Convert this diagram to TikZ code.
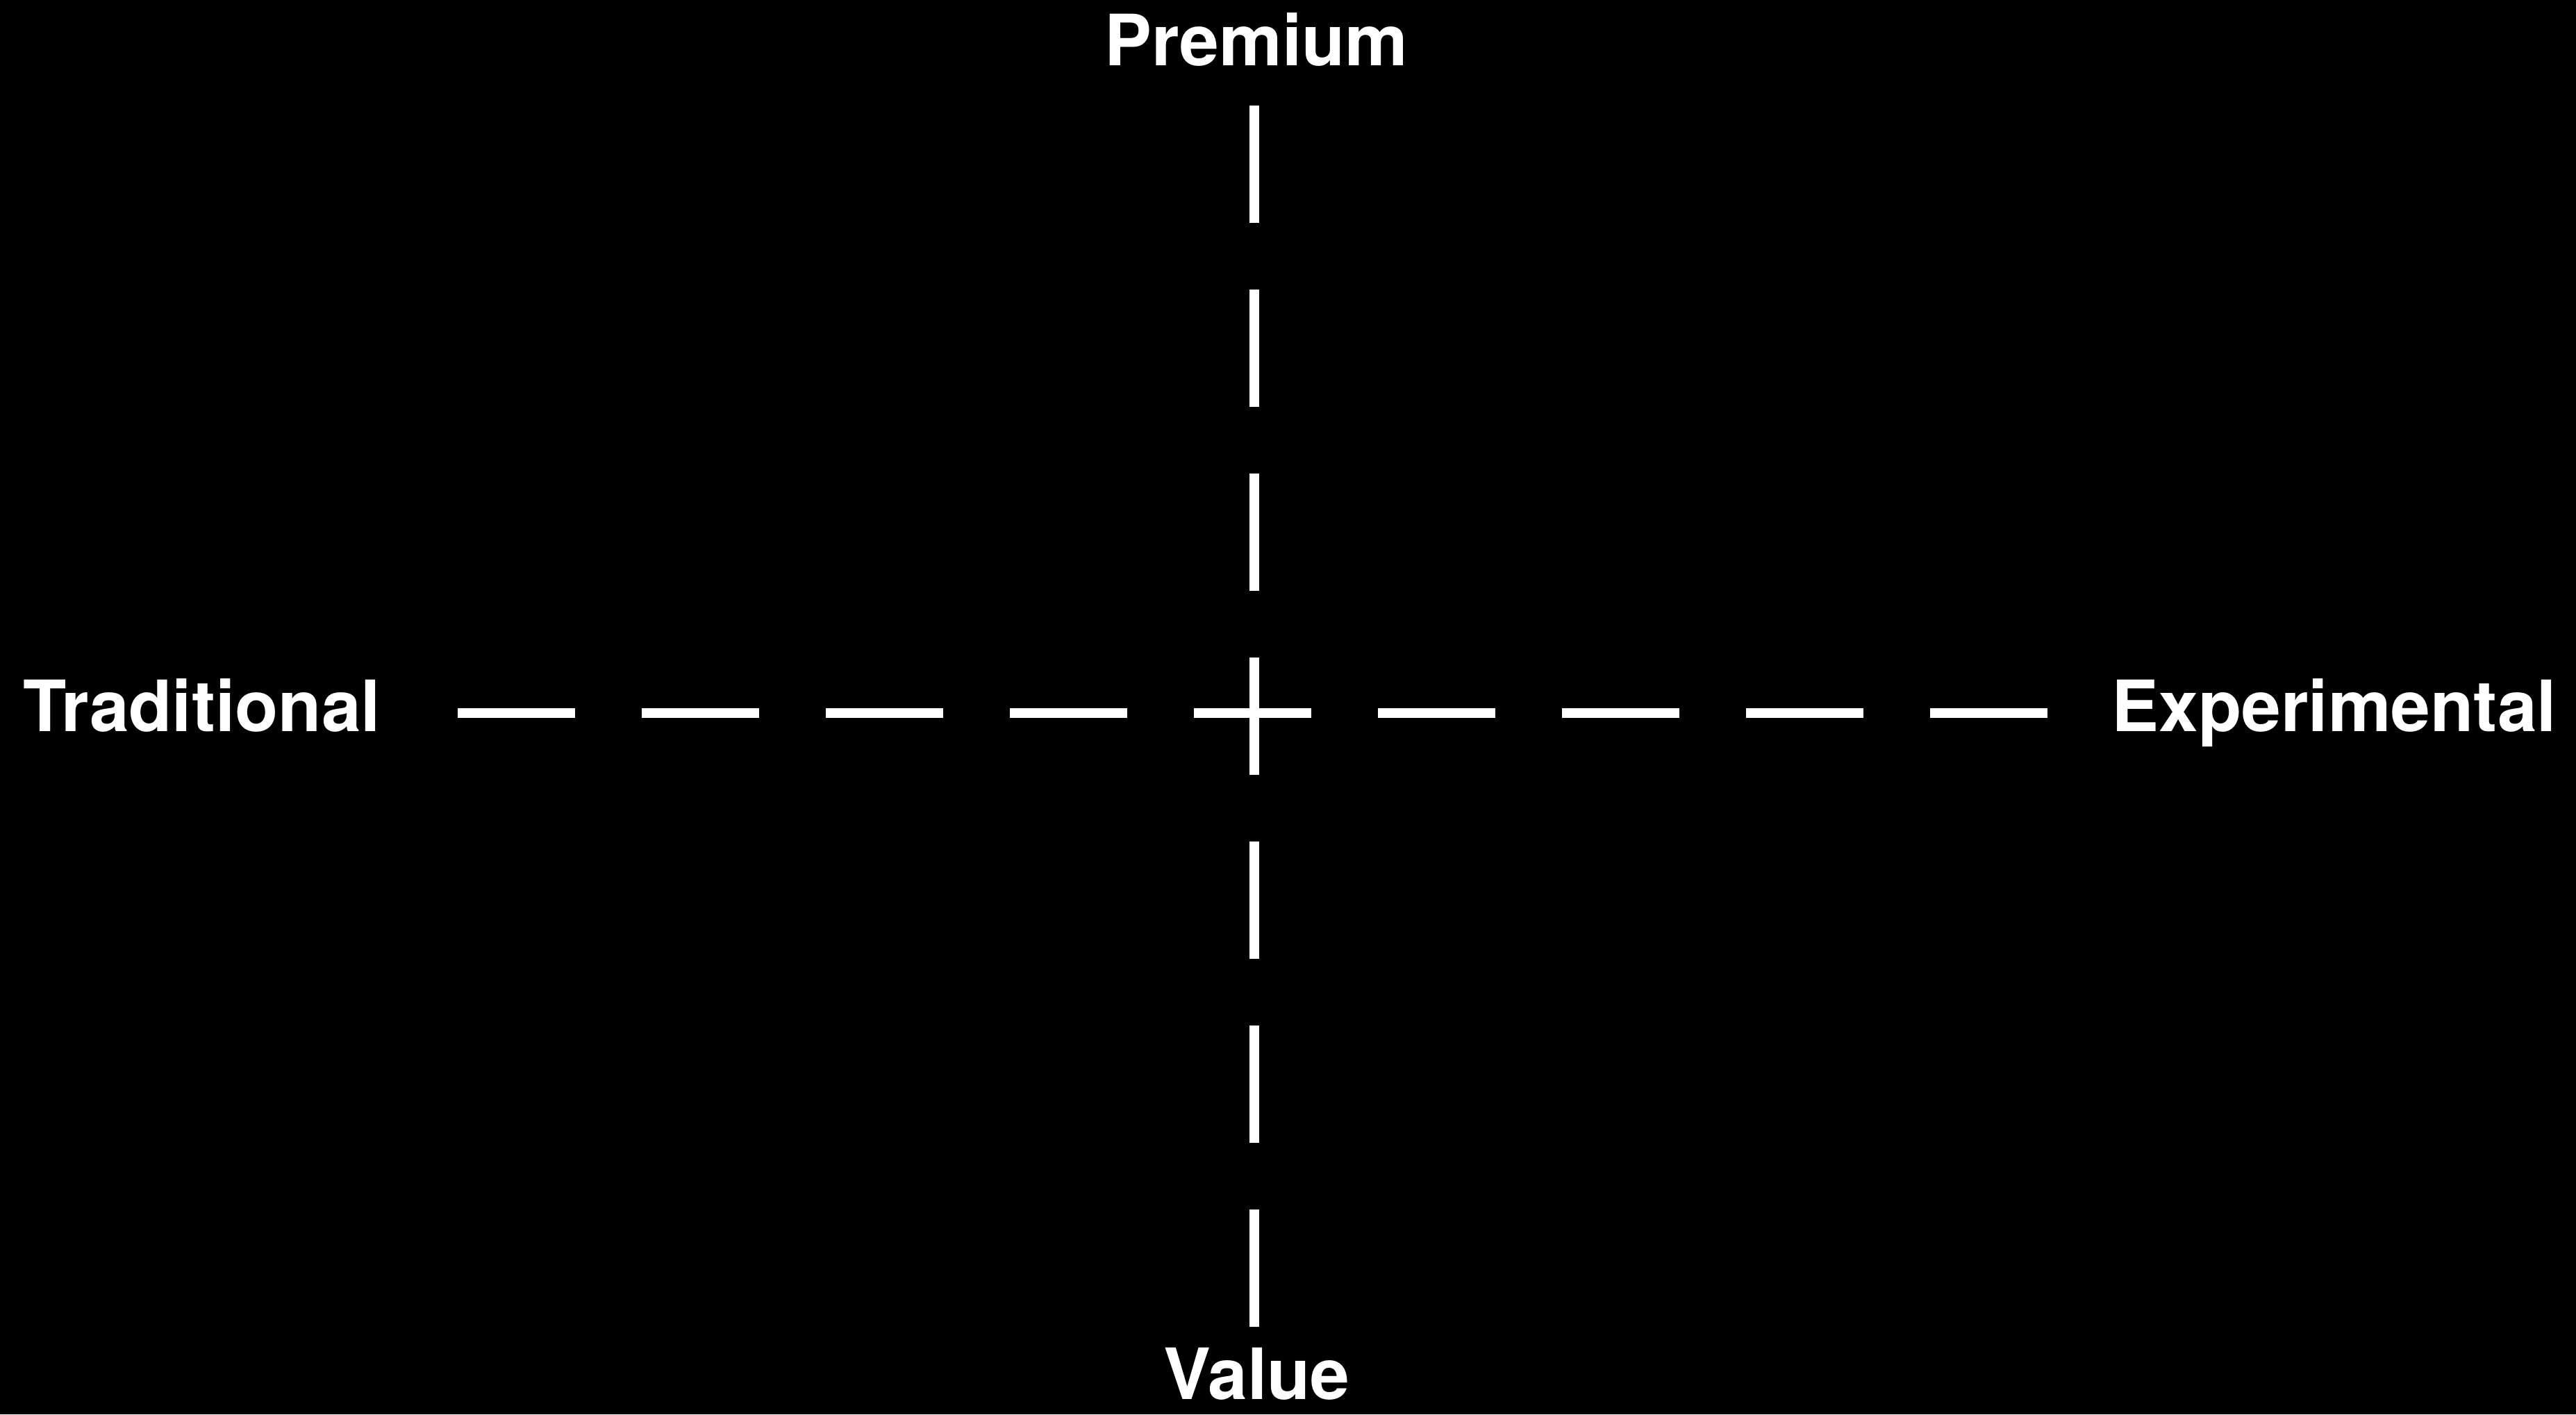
\documentclass[tikz,border=0pt]{standalone}
\usepackage{fontspec}
\setmainfont{TeX Gyre Heros}
\usepackage{tikz}
\usetikzlibrary{positioning}

\begin{document}
\begin{tikzpicture}[
 lbl/.style={text=white,inner sep=0pt,font=\fontsize{29}{34}\selectfont\bfseries},
 axis/.style={draw=white,line width=1.4mm,dash pattern=on 16.9mm off 9.6mm}]
\useasboundingbox (0,0) rectangle (37.09,20.37);
\fill[black] (0,0) rectangle (37.09,20.37);
% axis ends
\coordinate (W) at (6.59,10.10);
\coordinate (E) at (29.51,10.10);
\coordinate (S) at (18.055,1.26);
\coordinate (N) at (18.055,18.85);
\draw[axis] (W)--(E);
\draw[axis] (S)--(N);
% labels
\node[lbl,anchor=base] (premium) at (18.09,19.42) {Premium};
\node[lbl,anchor=base] (value) at (18.095,0.22) {Value};
\node[lbl,anchor=base west] (trad) at (0.33,9.83) {Traditional};
\node[lbl,anchor=base west] (exper) at (30.4,9.83) {Experimental};
\end{tikzpicture}
\end{document}
